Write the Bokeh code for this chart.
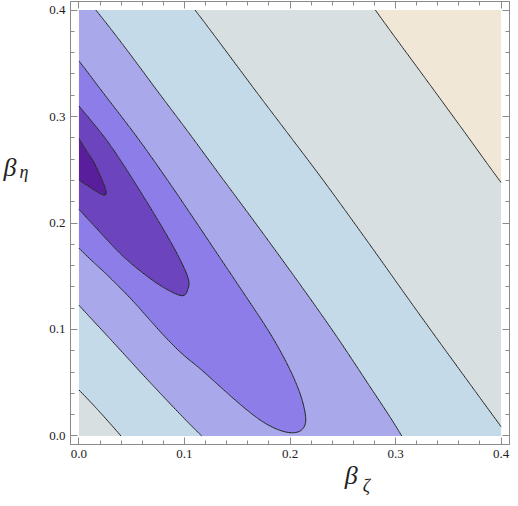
import numpy as np
from bokeh.plotting import figure
from bokeh.models import Range1d, LinearAxis, FixedTicker, PrintfTickFormatter, CustomJSTickFormatter
from bokeh.embed import file_html
from bokeh.resources import INLINE

# ---- contour traces (beta_zeta, beta_eta), innermost first ----
c1_x = [0.0, 0.0068, 0.013, 0.0191, 0.0238, 0.0259, 0.0238, 0.0191, 0.013, 0.0068, 0.0]
c1_y = [0.2791, 0.2683, 0.259, 0.2467, 0.2359, 0.2283, 0.2261, 0.2282, 0.2319, 0.2359, 0.2405]

c2_x = [0.0, 0.0253, 0.0562, 0.0808, 0.0962, 0.1039, 0.103, 0.0978, 0.087, 0.0715, 0.0407, 0.013, 0.0]
c2_y = [0.3099, 0.2791, 0.2328, 0.1928, 0.165, 0.1465, 0.1373, 0.1317, 0.1357, 0.145, 0.1697, 0.1989, 0.2128]

c3_x = [0.0, 0.0206, 0.0562, 0.087, 0.1332, 0.1579, 0.1825, 0.201, 0.2134, 0.2149, 0.2042,
        0.1733, 0.1425, 0.1147, 0.0962, 0.05, 0.0253, 0.0]
c3_y = [0.3522, 0.3253, 0.2791, 0.2359, 0.168, 0.1315, 0.0941, 0.0601, 0.0263, 0.0139, 0.0031,
        0.0139, 0.0386, 0.0633, 0.0786, 0.128, 0.1526, 0.1764]

c4_x = [0.016, 0.0747, 0.1024, 0.1332, 0.1702, 0.1853, 0.2195, 0.2442, 0.275, 0.3059,
        0.0, 0.0592, 0.0962, 0.1163]
c4_y = [0.4, 0.3235, 0.287, 0.2455, 0.196, 0.1755, 0.1285, 0.0935, 0.0475, 0.0,
        0.1228, 0.059, 0.0201, 0.0]

c5_x = [0.11, 0.1684, 0.23, 0.284, 0.3105, 0.3379, 0.3842, 0.4, 0.0, 0.0398]
c5_y = [0.4, 0.3228, 0.2421, 0.1681, 0.1311, 0.0933, 0.0302, 0.0087, 0.0432, 0.0]

c6_x = [0.2809, 0.3226, 0.3688, 0.4]
c6_y = [0.4, 0.3434, 0.2807, 0.2381]

# minimum of the surface (estimated), ratio between successive contour levels,
# and the valley's axis (slope) used to stretch space across it
centre_x = [0.003]
centre_y = [0.257]
centre_level = 0.5
level_ratio = 3.2
valley_slope = -1.2
valley_stretch = 3.0

band_colors = ["#581e9b", "#6c44be", "#8c7de8", "#a8a8ea", "#c4dae9", "#d8dfe0", "#f0e7d7"]

tick_major = [0.0, 0.1, 0.2, 0.3, 0.4]
tick_minor = [round(0.02 * i, 2) for i in range(21)]

x_label_main, x_label_sub = "β", "ζ"
y_label_main, y_label_sub = "β", "η"

# ---- smooth surface through the traced contours (anisotropic thin-plate spline) ----
traces = [(c1_x, c1_y), (c2_x, c2_y), (c3_x, c3_y), (c4_x, c4_y), (c5_x, c5_y), (c6_x, c6_y)]
contour_levels = [level_ratio ** k for k in range(len(traces))]
px, py, pv = [], [], []
for (tx, ty), lv in zip(traces, contour_levels):
    px += tx; py += ty; pv += [lv] * len(tx)
px += centre_x; py += centre_y; pv += [centre_level] * len(centre_x)
px = np.array(px); py = np.array(py); pv = np.array(pv, dtype=float)

dn = np.hypot(1.0, valley_slope)
d_vec = np.array([1.0, valley_slope]) / dn
n_vec = np.array([-valley_slope, 1.0]) / dn

def to_uv(x, y):
    u = x * d_vec[0] + y * d_vec[1]
    v = (x * n_vec[0] + y * n_vec[1]) * valley_stretch
    return u, v

def U(r):
    with np.errstate(divide="ignore", invalid="ignore"):
        out = r * r * np.log(r)
    return np.nan_to_num(out)

pu, pw = to_uv(px, py)
n = len(pu)
R = np.hypot(pu[:, None] - pu[None, :], pw[:, None] - pw[None, :])
P = np.column_stack([np.ones(n), pu, pw])
A = np.zeros((n + 3, n + 3))
A[:n, :n] = U(R) + 1e-7 * np.eye(n); A[:n, n:] = P; A[n:, :n] = P.T
sol = np.linalg.solve(A, np.concatenate([pv, np.zeros(3)]))
w, a = sol[:n], sol[n:]

gx = np.linspace(0, 0.4, 241)
gy = np.linspace(0, 0.4, 241)
GX, GY = np.meshgrid(gx, gy)
gu, gw = to_uv(GX.ravel(), GY.ravel())
D = np.hypot(gu[:, None] - pu[None, :], gw[:, None] - pw[None, :])
Z = (U(D) @ w + a[0] + a[1] * gu + a[2] * gw).reshape(GX.shape)

# ---- figure ----
p = figure(width=510, height=498, x_range=Range1d(-0.008, 0.408), y_range=Range1d(-0.008, 0.408),
           output_backend="svg", toolbar_location=None,
           min_border_left=59, min_border_right=1, min_border_top=1, min_border_bottom=0)
p.grid.visible = False
p.outline_line_color = "#8a8a8a"
p.background_fill_color = "white"

levels = [-1e9] + contour_levels + [1e9]
p.contour(gx, gy, Z, levels, fill_color=band_colors, line_color="#1e1e1e", line_width=1.0)

GREY = "#8a8a8a"
def style(ax, labels=True):
    ax.ticker = FixedTicker(ticks=tick_major, minor_ticks=tick_minor)
    ax.axis_line_color = GREY
    ax.major_tick_line_color = GREY
    ax.minor_tick_line_color = GREY
    ax.major_tick_in = 7
    ax.major_tick_out = 0
    ax.minor_tick_in = 4
    ax.minor_tick_out = 0
    if labels:
        ax.formatter = PrintfTickFormatter(format="%.1f")
        ax.major_label_text_font = "Liberation Serif"
        ax.major_label_text_font_size = "13px"
        ax.major_label_text_color = "#222222"
        ax.major_label_standoff = 5
    else:
        ax.formatter = CustomJSTickFormatter(code="return ''")
        ax.major_label_text_font_size = "0px"
        ax.major_label_standoff = 0

style(p.xaxis[0]); style(p.yaxis[0])
top = LinearAxis(); style(top, False); p.add_layout(top, "above")
right = LinearAxis(); style(right, False); p.add_layout(right, "right")

def letter_axis(pos, text, size, standoff):
    ax = LinearAxis(ticker=FixedTicker(ticks=[pos], minor_ticks=[]),
                    formatter=CustomJSTickFormatter(code="return '%s'" % text))
    ax.axis_line_color = None
    ax.major_tick_line_color = None
    ax.minor_tick_line_color = None
    ax.major_tick_in = 0; ax.major_tick_out = 0; ax.minor_tick_in = 0; ax.minor_tick_out = 0
    ax.major_label_text_font = "Liberation Serif"
    ax.major_label_text_font_style = "italic"
    ax.major_label_text_font_size = size
    ax.major_label_text_color = "#222222"
    ax.major_label_standoff = standoff
    return ax

# y label  β_η : subscript next to the tick labels, main letter further out
p.add_layout(letter_axis(0.2475, y_label_sub, "18px", 18), "left")
p.add_layout(letter_axis(0.252, y_label_main, "26px", 0), "left")
# x label  β_ζ : main letter below the tick labels, subscript slightly lower and to the right
p.add_layout(letter_axis(0.258, x_label_main, "26px", 0), "below")
p.add_layout(letter_axis(0.2725, x_label_sub, "18px", -17), "below")

open("out.html", "w").write(file_html(p, INLINE))
